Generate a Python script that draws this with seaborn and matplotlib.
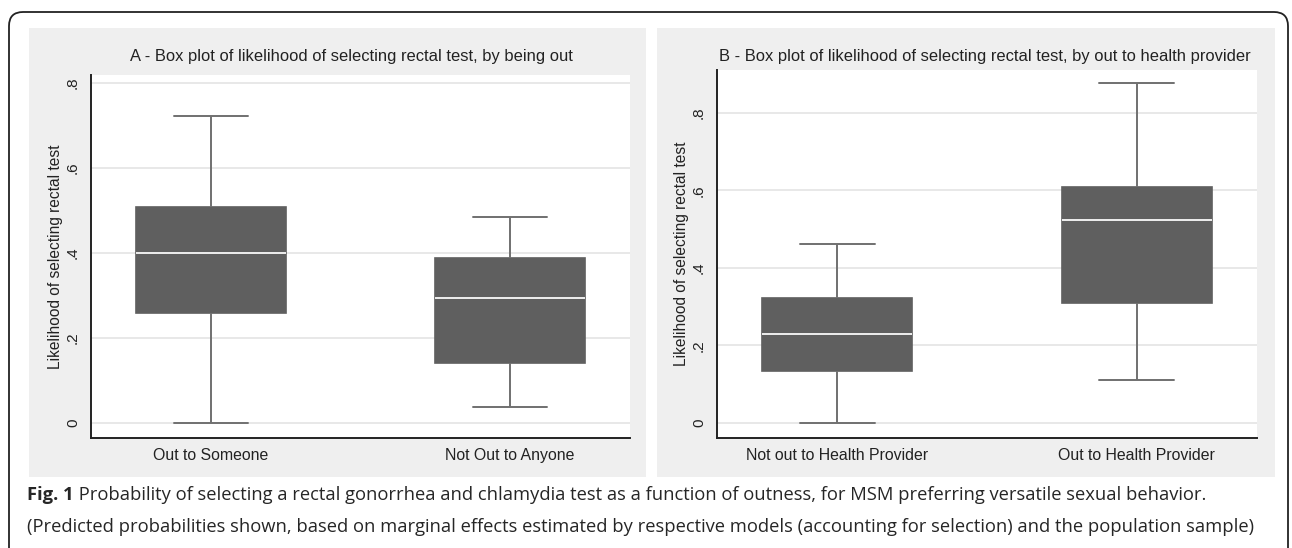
import numpy as np
import pandas as pd
import matplotlib
matplotlib.use("Agg")
import matplotlib.pyplot as plt
import seaborn as sns
from matplotlib.patches import Rectangle, FancyBboxPatch
from matplotlib.transforms import IdentityTransform

# box summaries: lower whisker, q1, median, q3, upper whisker
groups_a = ["Out to Someone", "Not Out to Anyone"]
out_someone = [0.0, 0.259, 0.400, 0.508, 0.722]
not_out_anyone = [0.037, 0.141, 0.294, 0.388, 0.485]

groups_b = ["Not out to Health Provider", "Out to Health Provider"]
not_out_provider = [0.0, 0.134, 0.230, 0.323, 0.462]
out_provider = [0.111, 0.310, 0.524, 0.609, 0.877]

yticks = [0, 0.2, 0.4, 0.6, 0.8]
yticklabels = ["0", ".2", ".4", ".6", ".8"]

title_a = "A - Box plot of likelihood of selecting rectal test, by being out"
title_b = "B - Box plot of likelihood of selecting rectal test, by out to health provider"
ylabel = "Likelihood of selecting rectal test"
caption1 = (" Probability of selecting a rectal gonorrhea and chlamydia test as a function "
            "of outness, for MSM preferring versatile sexual behavior.")
caption2 = ("(Predicted probabilities shown, based on marginal effects estimated by respective "
            "models (accounting for selection) and the population sample)")

df_a = pd.DataFrame({"group": [groups_a[0]] * 5 + [groups_a[1]] * 5,
                     "value": out_someone + not_out_anyone})
df_b = pd.DataFrame({"group": [groups_b[0]] * 5 + [groups_b[1]] * 5,
                     "value": not_out_provider + out_provider})

sns.set_style("white")
plt.rcParams["font.family"] = ["Liberation Sans", "DejaVu Sans"]

W, H = 1292, 548
fig = plt.figure(figsize=(W / 100, H / 100), dpi=100)
fig.patch.set_facecolor("white")


def px_axes(x0, y0, x1, y1):
    return fig.add_axes([x0 / W, 1 - y1 / H, (x1 - x0) / W, (y1 - y0) / H])


# grey panel backgrounds
for gx0, gx1 in [(29, 646), (657, 1275)]:
    fig.add_artist(Rectangle((gx0 / W, 1 - 477 / H), (gx1 - gx0) / W, (477 - 28) / H,
                             transform=fig.transFigure, facecolor="#efefef",
                             edgecolor="none", zorder=-1))

# outer rounded frame
fig.add_artist(FancyBboxPatch((9, -30), 1279, 566, boxstyle="round,pad=0,rounding_size=14",
                              transform=IdentityTransform(), facecolor="none",
                              edgecolor="#222222", linewidth=1.3, zorder=5))

box_kws = dict(color="#5f5f5f", linecolor="#5f5f5f", width=0.5, whis=(0, 100),
               fliersize=0, linewidth=1.2,
               medianprops=dict(color="#eeeeee", linewidth=1.4),
               whiskerprops=dict(color="#707070", linewidth=1.4),
               capprops=dict(color="#707070", linewidth=1.4),
               boxprops=dict(edgecolor="#5f5f5f"))

panels = [
    (px_axes(91, 75, 630, 438), df_a, groups_a, (-0.035, 0.819), title_a, 351),
    (px_axes(717, 70, 1257, 438), df_b, groups_b, (-0.039, 0.911), title_b, 985),
]

for ax, df, groups, ylim, title, tx in panels:
    sns.boxplot(data=df, x="group", y="value", order=groups, ax=ax, **box_kws)
    ax.set_ylim(*ylim)
    ax.set_xlim(-0.401, 1.401)
    ax.set_yticks(yticks)
    ax.set_yticklabels(yticklabels, rotation=90, va="center", fontsize=11, color="#222222")
    ax.tick_params(axis="y", length=5, width=1.0, color="#222222", pad=3)
    ax.tick_params(axis="x", length=0, pad=7, labelsize=11.4, labelcolor="#222222")
    ax.yaxis.grid(True, color="#e6e6e6", linewidth=1.3)
    ax.set_axisbelow(True)
    for s in ["top", "right"]:
        ax.spines[s].set_visible(False)
    for s in ["left", "bottom"]:
        ax.spines[s].set_color("#222222")
        ax.spines[s].set_linewidth(1.4)
    ax.set_xlabel("")
    ax.set_ylabel(ylabel, fontsize=11.2, labelpad=2, color="#222222")
    ax.set_facecolor("white")
    fig.text(tx / W, 1 - 56 / H, title,
             ha="center", va="center", fontsize=11.9, color="#222222")

# caption
t = fig.text(27 / W, 1 - 495 / H, "Fig. 1", family="Open Sans", weight="bold",
             fontsize=13.2, va="center", ha="left")
fig.canvas.draw()
bb = t.get_window_extent()
fig.text(bb.x1 / W, 1 - 495 / H, caption1, family="Open Sans", fontsize=13.2,
         va="center", ha="left")
fig.text(27 / W, 1 - 527 / H, caption2, family="Open Sans", fontsize=13.2,
         va="center", ha="left")

fig.savefig("out.png", dpi=100)
